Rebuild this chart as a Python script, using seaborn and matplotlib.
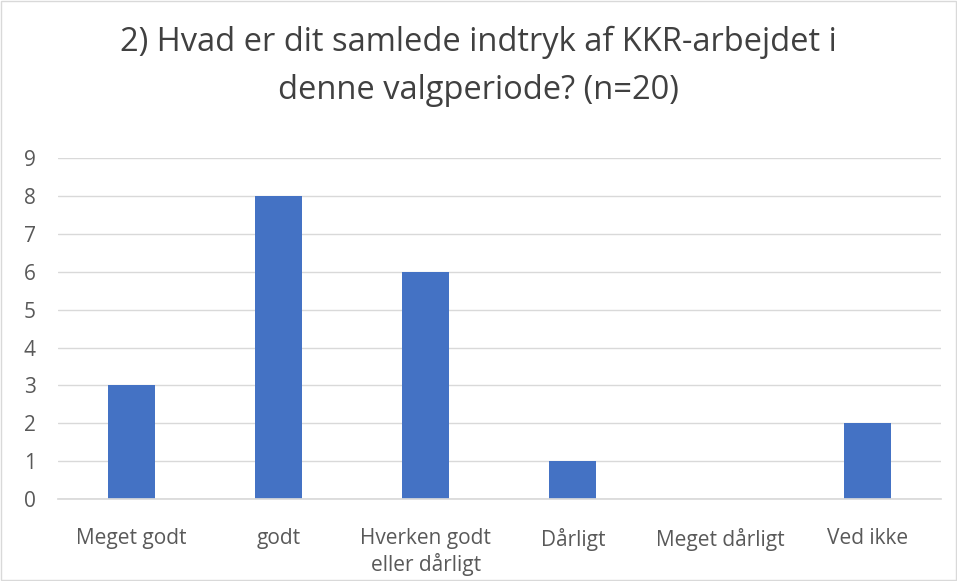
import matplotlib
matplotlib.use("Agg")
import matplotlib.pyplot as plt
import seaborn as sns
import pandas as pd

categories = ["Meget godt", "godt", "Hverken godt\neller dårligt", "Dårligt", "Meget dårligt", "Ved ikke"]
counts = [3, 8, 6, 1, 0, 2]
title = "2) Hvad er dit samlede indtryk af KKR-arbejdet i\ndenne valgperiode? (n=20)"

sns.set_theme(style="white")
plt.rcParams["font.family"] = ["Open Sans", "DejaVu Sans"]

df = pd.DataFrame({"svar": categories, "antal": counts})

fig = plt.figure(figsize=(9.57, 5.81), dpi=100)
ax = fig.add_axes([0.0606, 0.141, 0.9224, 0.587])

sns.barplot(data=df, x="svar", y="antal", color="#4472C4", saturation=1,
            width=0.32, linewidth=0, ax=ax)

ax.set_ylim(0, 9)
ax.set_yticks(range(0, 10))
ax.set_xlim(-0.5, len(categories) - 0.5)
ax.yaxis.grid(True, color="#D9D9D9", linewidth=1)
ax.set_axisbelow(True)
for s in ["left", "right", "top"]:
    ax.spines[s].set_visible(False)
ax.spines["bottom"].set_color("#D9D9D9")
ax.tick_params(axis="both", length=0, labelsize=15, colors="#595959")
ax.tick_params(axis="x", pad=21)
ax.tick_params(axis="y", pad=16)
ax.set_xlabel("")
ax.set_ylabel("")

fig.suptitle(title, fontsize=23.5, color="#404040", y=0.955, linespacing=1.6)

# outer chart border
fig.patches.append(plt.Rectangle((0.001, 0.001), 0.998, 0.998, transform=fig.transFigure,
                                 fill=False, edgecolor="#D9D9D9", linewidth=1))

fig.savefig("out.png", dpi=100)
